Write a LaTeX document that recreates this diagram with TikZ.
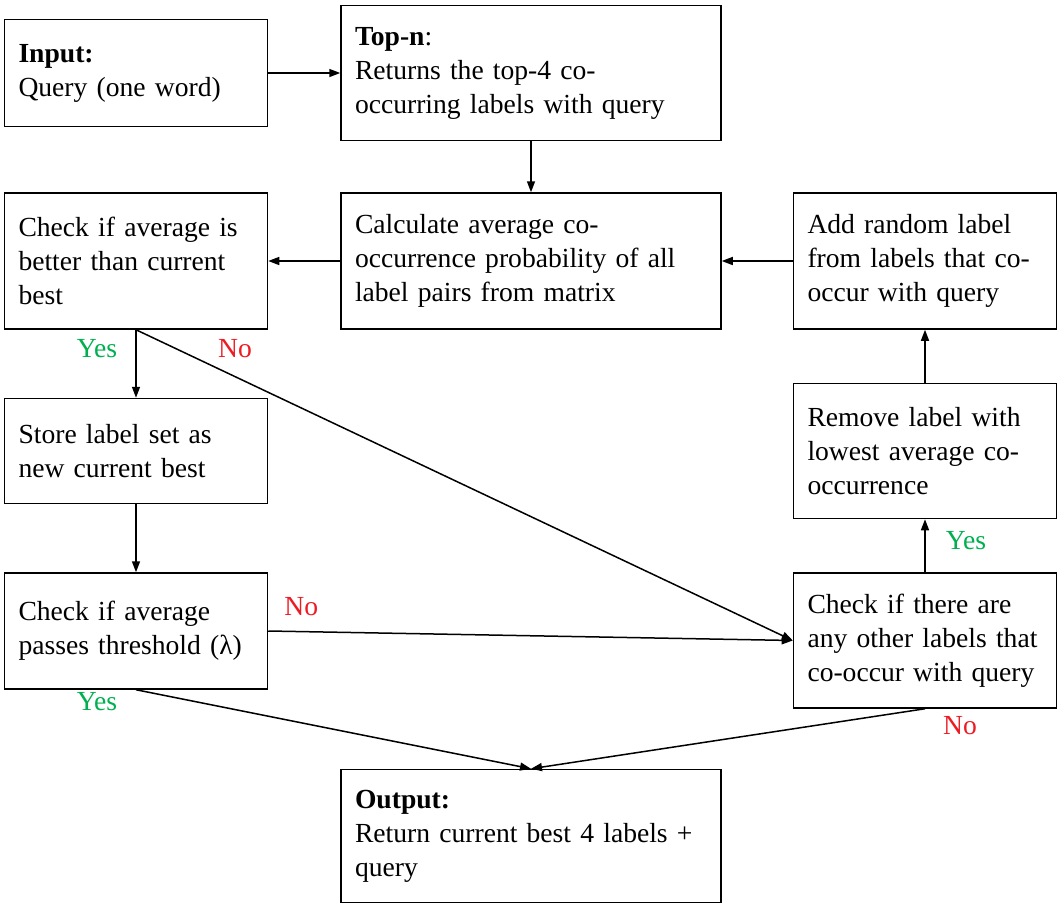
\documentclass[tikz,border=0pt]{standalone}
\usepackage{fontspec}
\setmainfont{Liberation Serif}
\usetikzlibrary{arrows.meta}
\usetikzlibrary{positioning}
\definecolor{yesgreen}{RGB}{0,176,80}
\definecolor{nored}{RGB}{237,28,36}
\tikzset{
    box/.style={
           rectangle,
           draw=black, line width=0.75pt,
           inner xsep=7pt, inner ysep=2pt,
           align=left,
           font=\fontsize{13.8}{17}\selectfont,
           },
    wide/.style={box, text width=176pt},
    narrow/.style={box, text width=117.5pt},
    yes/.style={text=yesgreen, font=\fontsize{13.8}{17}\selectfont},
    no/.style={text=nored, font=\fontsize{13.8}{17}\selectfont},
}

\begin{document}
\begin{tikzpicture}[x=0.5pt,y=-0.5pt,->,>={Triangle[length=5.5pt,width=4pt]},
                    line width=0.75pt]
  \useasboundingbox (0,0) rectangle (1057,905);

  \node[wide, minimum height=68pt]     (calc) at (531,261)          {Calculate average co-\\occurrence probability of all\\label pairs from matrix};
  \node[wide, minimum height=67.5pt]   (topn)   [above=25.5pt of calc] {\textbf{Top-n}:\\Returns the top-4 co-\\occurring labels with query};
  \node[narrow, minimum height=53.5pt] (input)  [left=36pt of topn]    {\textbf{Input:}\\Query (one word)};
  \node[narrow, minimum height=68pt]   (check)  [left=36pt of calc]    {Check if average is\\better than current\\best};
  \node[narrow, minimum height=68pt]   (add)    [right=35.5pt of calc] {Add random label\\from labels that co-\\occur with query};
  \node[narrow, minimum height=52.5pt] (store)  [below=34pt of check]  {Store label set as\\new current best};
  \node[narrow, minimum height=58pt]   (thresh) [below=34pt of store]  {Check if average\\passes threshold (λ)};
  \node[narrow, minimum height=67.5pt] (remove) [below=26.5pt of add]  {Remove label with\\lowest average co-\\occurrence};
  \node[narrow, minimum height=67.5pt] (other)  [below=26.5pt of remove] {Check if there are\\any other labels that\\co-occur with query};
  \node[wide, minimum height=66.5pt]   (output) [below=219.5pt of calc] {\textbf{Output:}\\Return current best 4 labels +\\query};

  % decisions
  \node[yes] (yes1) at ([shift={(-39,19)}]check.south)  {Yes};
  \node[no]  (no1)  at ([shift={(99,19)}]check.south)   {No};
  \node[no]  (no2)  at ([shift={(33,-24)}]thresh.east)  {No};
  \node[yes] (yes2) at ([shift={(-39,12)}]thresh.south) {Yes};
  \node[no]  (no3)  at ([shift={(35,17)}]other.south)   {No};
  \node[yes] (yes3) at ([shift={(41,-32)}]other.north)  {Yes};

  \draw (input.east) -- (input.east -| topn.west);
  \draw (topn) -- (calc);
  \draw (calc) -- (check);
  \draw (add) -- (calc);
  \draw (check.south) -- (store);
  \draw (check.south) -- (other.west);
  \draw (store) -- (thresh);
  \draw (thresh.east) -- (other.west);
  \draw (thresh.south) -- (output.north);
  \draw (other.south) -- (output.north);
  \draw (other) -- (remove);
  \draw (remove) -- (add);
\end{tikzpicture}
\end{document}
